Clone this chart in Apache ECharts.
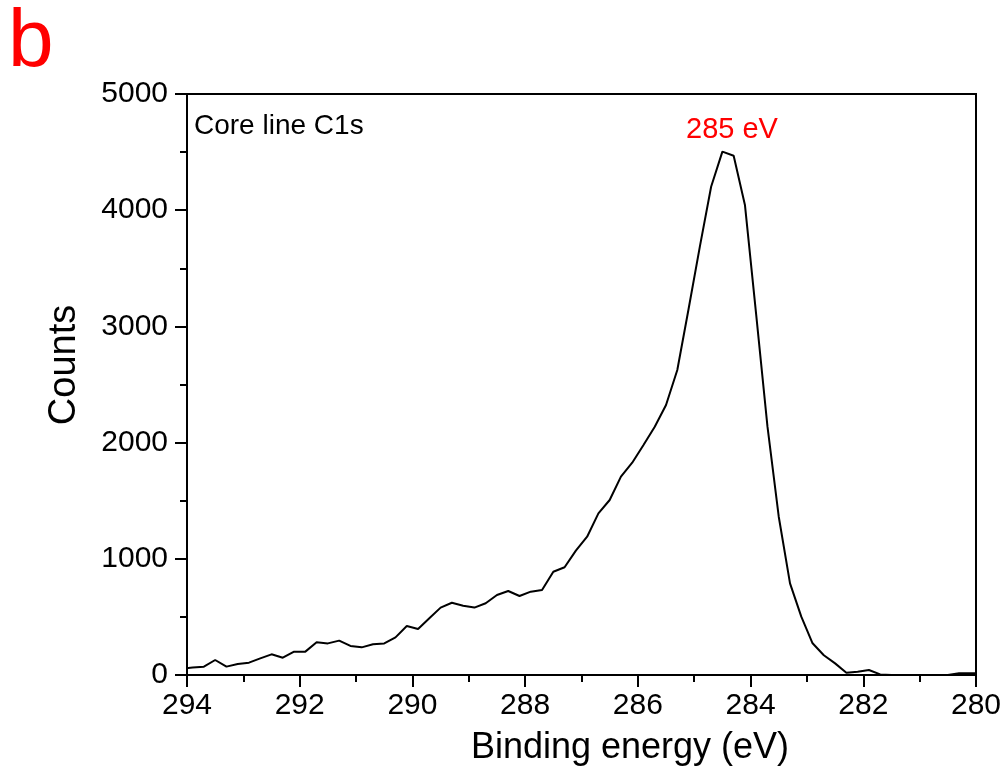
<!DOCTYPE html>
<html>
<head>
<meta charset="utf-8">
<script src="https://cdn.jsdelivr.net/npm/echarts@6/dist/echarts.min.js"></script>
<style>
  html, body { margin: 0; padding: 0; background: #fff; }
  #chart { width: 1006px; height: 776px; }
</style>
</head>
<body>
<div id="chart"></div>
<script>
// XPS C1s core-line spectrum (binding energy in eV, counts)
const bindingEnergy = [
  294.1, 293.9, 293.7, 293.5, 293.3, 293.1, 292.9, 292.7, 292.5, 292.3,
  292.1, 291.9, 291.7, 291.5, 291.3, 291.1, 290.9, 290.7, 290.5, 290.3,
  290.1, 289.9, 289.7, 289.5, 289.3, 289.1, 288.9, 288.7, 288.5, 288.3,
  288.1, 287.9, 287.7, 287.5, 287.3, 287.1, 286.9, 286.7, 286.5, 286.3,
  286.1, 285.9, 285.7, 285.5, 285.3, 285.1, 284.9, 284.7, 284.5, 284.3,
  284.1, 283.9, 283.7, 283.5, 283.3, 283.1, 282.9, 282.7, 282.5, 282.3,
  282.1, 281.9, 281.7, 281.5, 281.3, 281.1, 280.9, 280.7, 280.5, 280.3,
  280.1, 279.9
];
const counts = [
  55, 65, 72, 129, 72, 95, 106, 143, 178, 149,
  201, 201, 281, 272, 296, 250, 238, 264, 272, 324,
  421, 396, 488, 580, 622, 596, 580, 617, 688, 723,
  680, 717, 731, 889, 927, 1070, 1190, 1391, 1506, 1707,
  1827, 1979, 2137, 2324, 2625, 3150, 3686, 4202, 4504, 4469,
  4045, 3100, 2137, 1362, 789, 502, 273, 170, 100, 20,
  28, 43, 5, 0, 0, 0, 0, 0, 0, 15,
  15, 15
];
const yTicks = [0, 1000, 2000, 3000, 4000, 5000];
const xTicks = [280, 282, 284, 286, 288, 290, 292, 294];

const panelLabel = 'b';
const spectrumTitle = 'Core line C1s';
const peakLabel = '285 eV';
const xTitle = 'Binding energy (eV)';
const yTitle = 'Counts';

const FONT = '"Liberation Sans", Arial, sans-serif';

const chart = echarts.init(document.getElementById('chart'), null, { renderer: 'canvas' });

const option = {
  backgroundColor: '#ffffff',
  animation: false,
  grid: {
    left: 187, right: 30, top: 94, bottom: 101,
    show: true, borderColor: '#000', borderWidth: 2, backgroundColor: 'transparent'
  },
  xAxis: {
    type: 'value',
    inverse: true,
    min: xTicks[0],
    max: xTicks[xTicks.length - 1],
    interval: 2,
    axisLine: { show: true, lineStyle: { color: '#000', width: 2 } },
    axisTick: { show: true, inside: false, length: 12, lineStyle: { color: '#000', width: 2 } },
    minorTick: { show: true, splitNumber: 2, length: 7, lineStyle: { color: '#000', width: 2 } },
    splitLine: { show: false },
    axisLabel: { fontFamily: FONT, fontSize: 30, color: '#000', margin: 16, formatter: v => String(v) }
  },
  yAxis: {
    type: 'value',
    min: yTicks[0],
    max: yTicks[yTicks.length - 1],
    interval: 1000,
    axisLine: { show: true, lineStyle: { color: '#000', width: 2 } },
    axisTick: { show: true, inside: false, length: 12, lineStyle: { color: '#000', width: 2 } },
    minorTick: { show: true, splitNumber: 2, length: 7, lineStyle: { color: '#000', width: 2 } },
    splitLine: { show: false },
    axisLabel: { fontFamily: FONT, fontSize: 30, color: '#000', margin: 19, formatter: v => String(v) }
  },
  series: [{
    type: 'line',
    data: bindingEnergy.map((e, i) => [e, counts[i]]),
    showSymbol: false,
    clip: true,
    lineStyle: { color: '#000', width: 2 }
  }],
  graphic: [
    {
      type: 'text', left: 8, top: 2,
      style: { text: panelLabel, fill: '#ff0000', font: '82px ' + FONT }
    },
    {
      type: 'text', left: 194, top: 112,
      style: { text: spectrumTitle, fill: '#000', font: '28px ' + FONT }
    },
    {
      type: 'text', left: 686, top: 115,
      style: { text: peakLabel, fill: '#ff0000', font: '29px ' + FONT }
    },
    {
      type: 'text', x: 630, y: 748,
      style: { text: xTitle, fill: '#000', font: '36px ' + FONT, textAlign: 'center', textVerticalAlign: 'middle' }
    },
    {
      type: 'text', x: 65, y: 365, rotation: Math.PI / 2,
      style: { text: yTitle, fill: '#000', font: '38px ' + FONT, textAlign: 'center', textVerticalAlign: 'middle' }
    }
  ]
};

chart.setOption(option);
</script>
</body>
</html>
